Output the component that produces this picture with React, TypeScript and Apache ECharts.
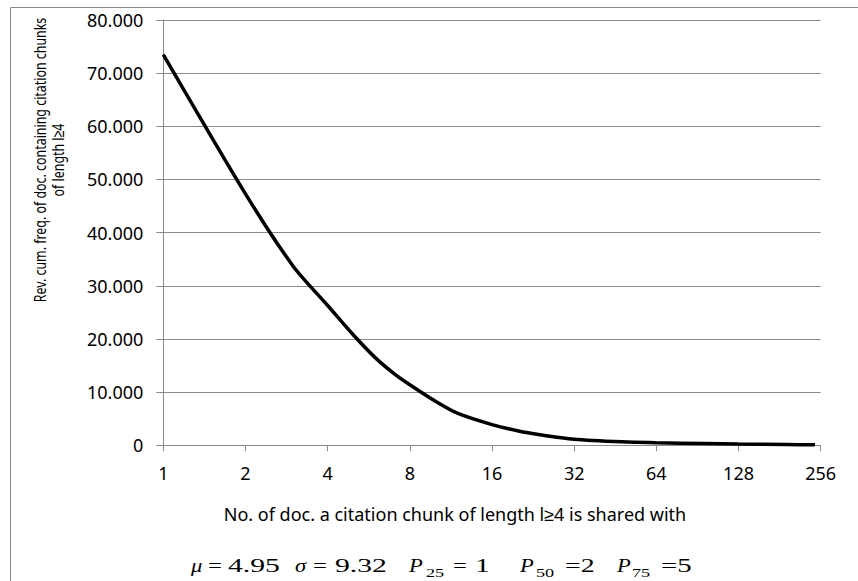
import React, { useEffect, useRef } from "react";
import * as echarts from "echarts";

// x: number of documents a citation chunk is shared with (log2 axis)
const docCounts = [1, 2, 3, 4, 5, 6, 7, 8, 10, 12, 16, 20, 24, 32, 48, 64, 96, 128, 192, 244];
// reverse cumulative frequency of documents
const revCumFreq = [73500, 47300, 33600, 26300, 20600, 16400, 13500, 11400, 8200, 6000, 3900, 2700, 2000, 1150, 650, 480, 320, 230, 140, 90];

const yTitle = "Rev. cum. freq. of doc. containing citation chunks\nof length l≥4";
const xTitle = "No. of doc. a citation chunk of length l≥4 is shared with";

// formula pieces: text, italic, subscript
const formulaPieces: [string, boolean, boolean][] = [
  ["μ", true, false], ["=", false, false], ["4.95", false, false],
  ["σ", true, false], ["=", false, false], ["9.32", false, false],
  ["P", true, false], ["25", false, true], ["=", false, false], ["1", false, false],
  ["P", true, false], ["50", false, true], ["=2", false, false],
  ["P", true, false], ["75", false, true], ["=5", false, false],
];
const formulaX = [191, 208, 228, 295, 313, 335, 409, 426, 453, 475, 520, 536, 565, 617, 632, 661];
const formulaScale = [1.25, 1.37, 1.65, 1.25, 1.37, 1.65, 1.25, 1.4, 1.37, 1.65, 1.25, 1.4, 1.55, 1.25, 1.4, 1.6];

const GRAY = "#8a8a8a";
const FONT = '"Noto Sans", "Liberation Sans", sans-serif';

export default function App() {
  const ref = useRef<HTMLDivElement>(null);
  useEffect(() => {
    if (!ref.current) return;
    const chart = echarts.init(ref.current, undefined, { renderer: "svg" });
    const seriesData = docCounts.map((x, i) => [x, revCumFreq[i]]);
    const formulaGraphics = formulaPieces.map(([t, it, sub], i) => ({
      type: "text",
      x: formulaX[i],
      y: sub ? 572.5 : 566,
      scaleX: formulaScale[i],
      silent: true,
      style: {
        text: t,
        fontFamily: '"Liberation Serif", "DejaVu Serif", serif',
        fontSize: sub ? 13 : 18,
        fontStyle: it ? "italic" : "normal",
        fill: "#000",
        textAlign: "left",
        textVerticalAlign: "middle",
      },
    }));
    chart.setOption({
      animation: false,
      backgroundColor: "#fff",
      grid: { left: 163.3, right: 37.3, top: 20, bottom: 135.7, containLabel: false },
      xAxis: {
        type: "log",
        logBase: 2,
        min: 1,
        max: 256,
        axisLine: { show: true, lineStyle: { color: GRAY, width: 1 } },
        axisTick: { show: true, inside: false, length: 6, lineStyle: { color: GRAY } },
        splitLine: { show: false },
        minorTick: { show: false },
        axisLabel: {
          margin: 19,
          color: "#000",
          fontSize: 18,
          fontFamily: FONT,
          formatter: (v: number) => String(Math.round(v)),
        },
      },
      yAxis: {
        type: "value",
        min: 0,
        max: 80000,
        interval: 10000,
        axisLine: { show: true, lineStyle: { color: GRAY, width: 1 } },
        axisTick: { show: true, inside: false, length: 7, lineStyle: { color: GRAY } },
        splitLine: { show: true, lineStyle: { color: GRAY, width: 1 } },
        axisLabel: {
          margin: 20,
          color: "#000",
          fontSize: 18,
          fontFamily: FONT,
          formatter: (v: number) => (v === 0 ? "0" : `${Math.round(v / 1000)}.000`),
        },
      },
      series: [
        {
          type: "line",
          data: seriesData,
          smooth: 0.25,
          showSymbol: false,
          lineStyle: { color: "#000", width: 3.5 },
          itemStyle: { color: "#000" },
        },
      ],
      graphic: [
        {
          type: "rect",
          silent: true,
          shape: { x: 10.5, y: 7.5, width: 1000, height: 1000 },
          style: { fill: "none", stroke: GRAY, lineWidth: 1 },
        },
        {
          type: "text",
          x: 48,
          y: 160,
          rotation: Math.PI / 2,
          scaleY: 1.35,
          silent: true,
          style: {
            text: yTitle,
            fontFamily: FONT,
            fontSize: 12.4,
            lineHeight: 13,
            fill: "#000",
            textAlign: "center",
            textVerticalAlign: "middle",
          },
        },
        {
          type: "text",
          x: 455,
          y: 513.5,
          silent: true,
          style: {
            text: xTitle,
            fontFamily: FONT,
            fontSize: 18,
            fill: "#000",
            textAlign: "center",
            textVerticalAlign: "middle",
          },
        },
        ...formulaGraphics,
      ],
    });
    return () => chart.dispose();
  }, []);
  return <div ref={ref} style={{ width: 858, height: 581, position: "absolute", left: 0, top: 0 }} />;
}
